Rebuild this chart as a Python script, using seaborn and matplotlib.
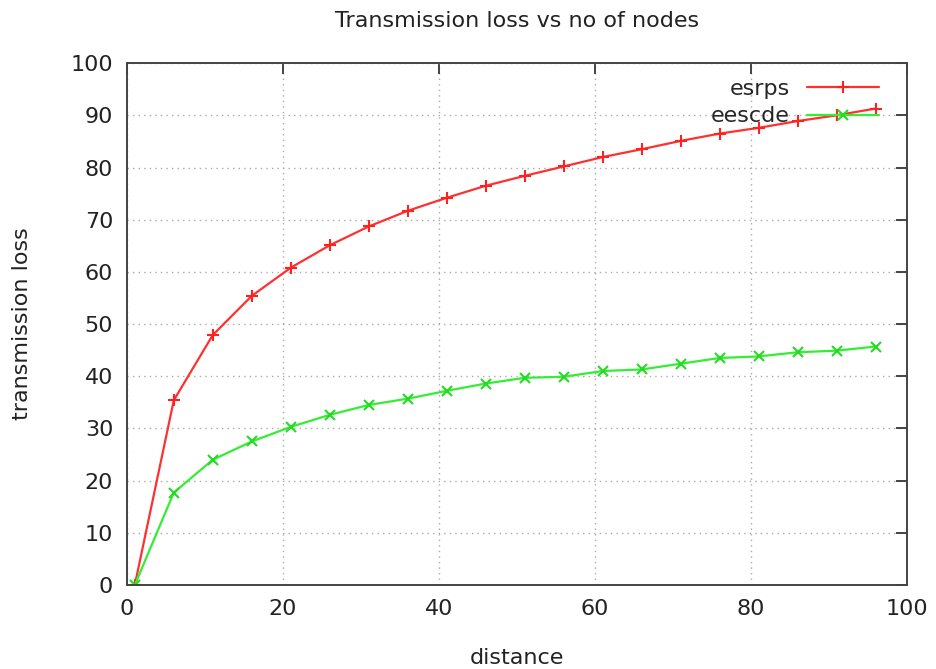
import matplotlib
matplotlib.use("Agg")
import matplotlib.pyplot as plt
import seaborn as sns
import pandas as pd

distance = [1, 6, 11, 16, 21, 26, 31, 36, 41, 46, 51, 56, 61, 66, 71, 76, 81, 86, 91, 96]
esrps = [0, 35.4, 47.9, 55.4, 60.8, 65.1, 68.7, 71.7, 74.2, 76.5,
         78.4, 80.2, 82.0, 83.5, 85.1, 86.5, 87.6, 88.9, 90.0, 91.3]
eescde = [0, 17.7, 24.0, 27.5, 30.3, 32.6, 34.5, 35.7, 37.2, 38.6,
          39.7, 39.9, 41.0, 41.3, 42.4, 43.5, 43.8, 44.6, 44.9, 45.7]
xticks = [0, 20, 40, 60, 80, 100]
yticks = [0, 10, 20, 30, 40, 50, 60, 70, 80, 90, 100]

sns.set_style("white")
plt.rcParams['font.family'] = ['DejaVu Sans']

df_a = pd.DataFrame({"distance": distance, "loss": esrps})
df_b = pd.DataFrame({"distance": distance, "loss": eescde})

fig = plt.figure(figsize=(9.36, 6.69), dpi=100)
ax = fig.add_axes([0.1357, 0.1256, 0.833, 0.780])

sns.lineplot(data=df_a, x="distance", y="loss", ax=ax, color="#ff3030", lw=1.6,
             marker="+", markersize=8, markeredgewidth=1.5, markeredgecolor="#ff2020",
             label="esrps")
sns.lineplot(data=df_b, x="distance", y="loss", ax=ax, color="#33ee33", lw=1.6,
             marker="x", markersize=7, markeredgewidth=1.5, markeredgecolor="#22dd22",
             label="eescde")

ax.set_xlim(0, 100)
ax.set_ylim(0, 100)
ax.set_xticks(xticks)
ax.set_yticks(yticks)
ax.grid(True, color="#aaaaaa", linestyle=(0, (1, 3)), lw=1.0)
for s in ax.spines.values():
    s.set_color("#444444")
    s.set_linewidth(1.4)
ax.tick_params(direction="in", length=8, width=1.4, colors="#444444",
               top=True, right=True, labelsize=16, labelcolor="#222222", pad=10)

ax.set_xlabel("distance", fontsize=16, color="#222222")
ax.set_ylabel("transmission loss", fontsize=16, color="#222222")
ax.xaxis.set_label_coords(0.5, -0.121)
ax.yaxis.set_label_coords(-0.122, 0.5)
ax.set_title("Transmission loss vs no of nodes", fontsize=16, color="#222222", y=1.054)

leg = ax.legend(loc="upper right", frameon=False, markerfirst=False, fontsize=16,
                handlelength=3.27, borderaxespad=0.3, labelspacing=0.35,
                handletextpad=0.75, bbox_to_anchor=(0.985, 1.0))

fig.savefig("out.png", dpi=100)
